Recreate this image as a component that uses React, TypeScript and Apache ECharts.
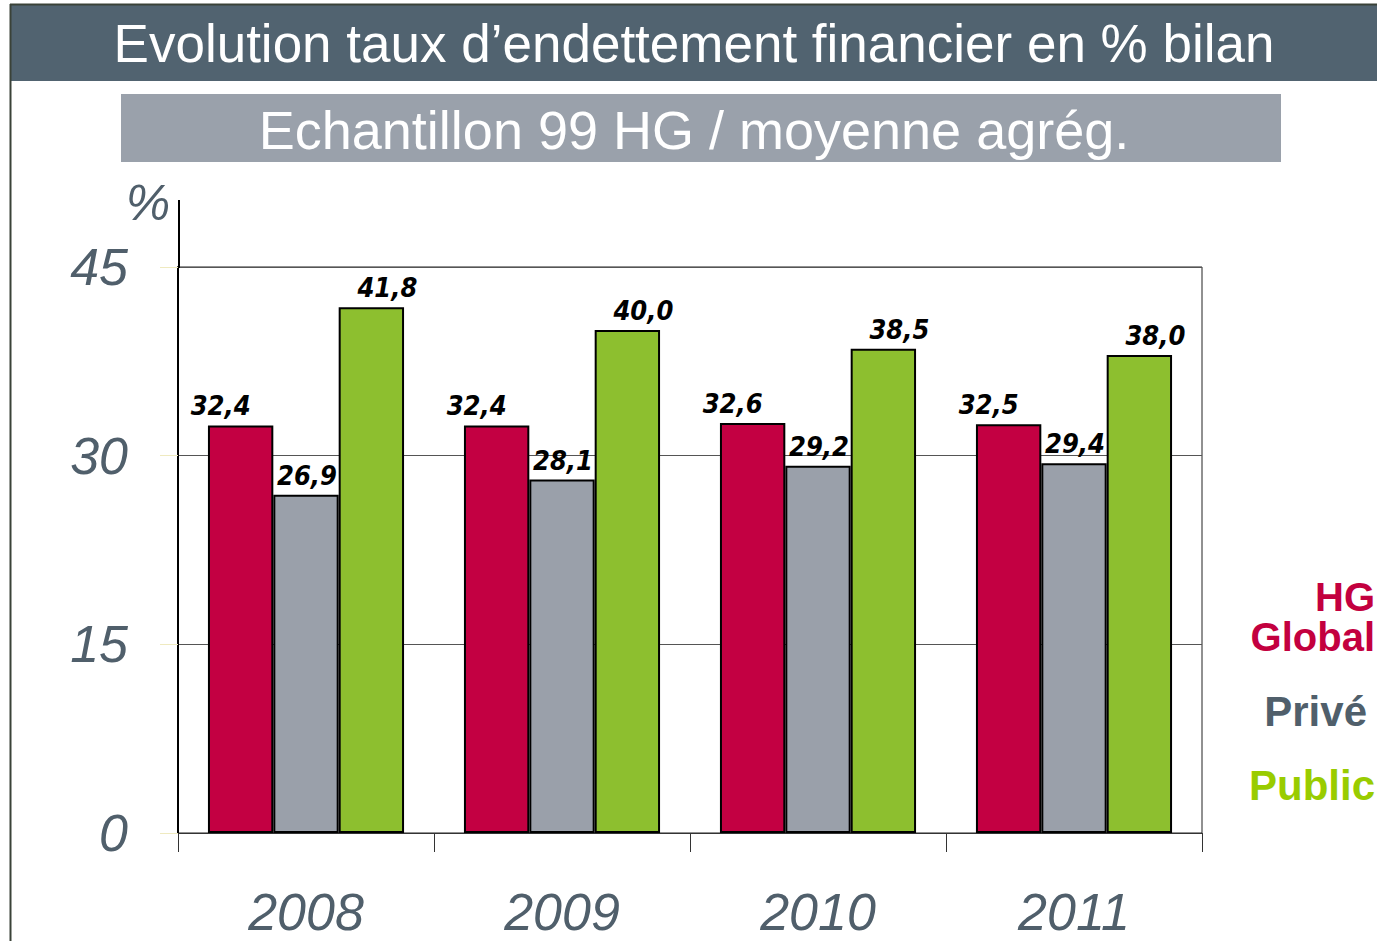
import React, { useEffect, useRef } from "react";
import * as echarts from "echarts";

const categories = ["2008", "2009", "2010", "2011"];
const hgGlobal = [32.4, 32.4, 32.6, 32.5];
const prive = [26.9, 28.1, 29.2, 29.4];
const publicVals = [41.8, 40.0, 38.5, 38.0];
const seriesNames = ["HG Global", "Privé", "Public"];
const yTicks = [0, 15, 30, 45];

const fmt = (v: number) => v.toFixed(1).replace(".", ",");
const SANS = "'Liberation Sans', Arial, sans-serif";

export default function App() {
  const ref = useRef<HTMLDivElement>(null);
  useEffect(() => {
    if (!ref.current) return;
    const chart = echarts.init(ref.current, undefined, { renderer: "svg" });
    const labelBase = {
      show: true,
      position: "top" as const,
      distance: 6,
      fontFamily: "'DejaVu Sans Condensed', 'DejaVu Sans', sans-serif",
      fontWeight: "bold" as const,
      fontStyle: "italic" as const,
      fontSize: 27,
      color: "#000",
      formatter: (p: any) => fmt(p.value),
    };
    const mk = (name: string, data: number[], color: string, dx: number) => ({
      name,
      type: "bar" as const,
      data,
      barGap: "0%",
      barCategoryGap: "23.4%",
      itemStyle: { color, borderColor: "#000", borderWidth: 2 },
      label: { ...labelBase, offset: [dx, 0] },
    });
    const txt = (text: string, x: number, y: number, extra: any) => ({
      type: "text",
      z: 12,
      style: {
        text,
        x,
        y,
        textAlign: extra.align || "center",
        textVerticalAlign: "middle",
        align: extra.align || "center",
        verticalAlign: "middle",
        fontFamily: SANS,
        ...extra,
      },
    });
    const option: any = {
      animation: false,
      backgroundColor: "#fff",
      grid: {
        left: 178,
        right: 175,
        top: 267,
        bottom: 941 - 833,
        show: true,
        borderColor: "#222",
        borderWidth: 1,
      },
      xAxis: {
        type: "category",
        data: categories,
        axisLine: { lineStyle: { color: "#333", width: 1 } },
        axisTick: { show: true, length: 19, interval: 0, lineStyle: { color: "#333" } },
        axisLabel: {
          fontSize: 52,
          fontStyle: "italic",
          fontFamily: SANS,
          color: "#505f6b",
          margin: 53,
        },
      },
      yAxis: {
        type: "value",
        min: yTicks[0],
        max: yTicks[yTicks.length - 1],
        interval: 15,
        axisLine: { show: true, lineStyle: { color: "#000", width: 2 } },
        axisTick: { show: true, length: 18, lineStyle: { color: "#efeac0" } },
        splitLine: { show: true, lineStyle: { color: "#555", width: 1 } },
        axisLabel: {
          fontSize: 52,
          fontStyle: "italic",
          fontFamily: SANS,
          color: "#505f6b",
          margin: 50,
        },
      },
      series: [
        mk(seriesNames[0], hgGlobal, "#c30042", -20),
        mk(seriesNames[1], prive, "#9aa0aa", 1),
        mk(seriesNames[2], publicVals, "#8dbf2f", 16),
      ],
      graphic: [
        { type: "rect", shape: { x: 10, y: 4, width: 1367, height: 77 }, style: { fill: "#516370" }, z: 10 },
        { type: "line", shape: { x1: 10, y1: 4.5, x2: 1377, y2: 4.5 }, style: { stroke: "#3a4238", lineWidth: 2 }, z: 11 },
        { type: "line", shape: { x1: 10.5, y1: 4, x2: 10.5, y2: 941 }, style: { stroke: "#3a4238", lineWidth: 2 }, z: 11 },
        txt("Evolution taux d’endettement financier en % bilan", 694, 43, { fill: "#fff", fontSize: 53 }),
        { type: "rect", shape: { x: 121, y: 94, width: 1160, height: 68 }, style: { fill: "#9aa1ab" }, z: 10 },
        txt("Echantillon 99 HG / moyenne agrég.", 694, 130, { fill: "#fff", fontSize: 54 }),
        txt("%", 148, 203, { fill: "#505f6b", fontSize: 50, fontStyle: "italic" }),
        { type: "line", shape: { x1: 179, y1: 200, x2: 179, y2: 268 }, style: { stroke: "#000", lineWidth: 2 }, z: 12 },
        txt("HG", 1375, 597, { align: "right", fill: "#c3003f", fontSize: 40, lineHeight: 38, fontWeight: "bold" }),
        txt("Global", 1375, 637, { align: "right", fill: "#c3003f", fontSize: 40, lineHeight: 38, fontWeight: "bold" }),
        txt("Privé", 1367, 711, { align: "right", fill: "#505f6b", fontSize: 42, lineHeight: 42, fontWeight: "bold" }),
        txt("Public", 1375, 785, { align: "right", fill: "#99cc00", fontSize: 42, lineHeight: 42, fontWeight: "bold" }),
      ],
    };
    chart.setOption(option);
    return () => chart.dispose();
  }, []);
  return (
    <div
      ref={ref}
      style={{ position: "fixed", left: 0, top: 0, width: 1377, height: 941 }}
    />
  );
}
